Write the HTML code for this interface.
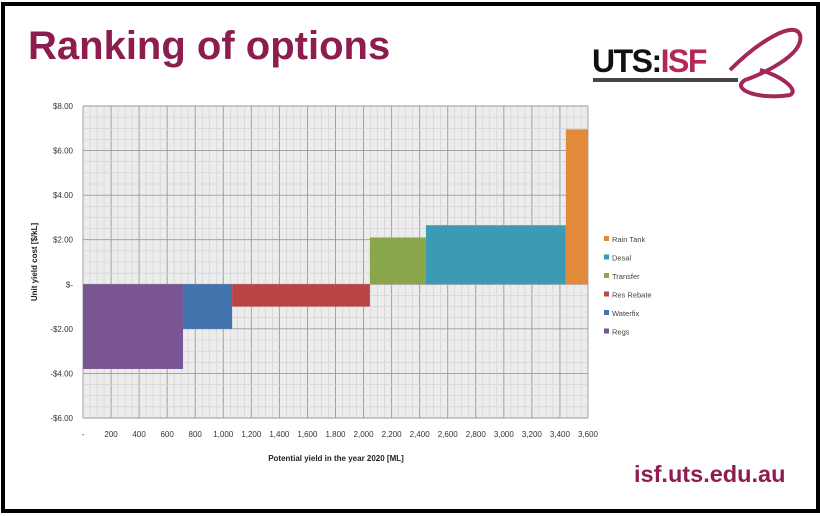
<!DOCTYPE html>
<html><head><meta charset="utf-8"><style>
body{margin:0;width:820px;height:516px;background:#fff;overflow:hidden;font-family:"Liberation Sans",sans-serif}
#frame{position:absolute;left:1px;top:2px;width:811px;height:503px;border:4px solid #000;}
#title{position:absolute;left:28px;top:24px;font-size:40px;font-weight:bold;color:#8c1d4e;}
#logo{position:absolute;left:592px;top:43px;font-size:32px;font-weight:bold;letter-spacing:-1.5px}
#url{position:absolute;left:634px;top:461px;font-size:23.5px;font-weight:bold;color:#8c1d4e}
</style></head><body>
<div id="frame"></div>
<div id="title">Ranking of options</div>
<div id="logo"><span style="color:#111">UTS:</span><span style="color:#b5265a">ISF</span></div>
<div style="position:absolute;left:593px;top:78px;width:145px;height:4px;background:#444"></div>
<svg style="position:absolute;left:700px;top:20px" width="110" height="85"><path d="M30 50 C60 20 95 0 100 15 C105 35 60 55 45 60 C30 70 60 80 90 75 C100 70 80 55 60 50" fill="none" stroke="#a3285a" stroke-width="4"/></svg>
<div id="url">isf.uts.edu.au</div>
<svg id="chart" width="820" height="516" style="position:absolute;left:0;top:0"></svg>
<script>
const names=["Regs","Waterfix","Res Rebate","Transfer","Desal","Rain Tank"];
const yields=[713,350,982,400,997,158];
const costs=[-3.8,-2.0,-1.0,2.1,2.65,6.95];
const colors=["#7a5593","#4373ad","#b84444","#8aa64a","#3c9bb4","#e08a3a"];
const xTicks=[0,200,400,600,800,1000,1200,1400,1600,1800,2000,2200,2400,2600,2800,3000,3200,3400,3600];
const yTicks=[8,6,4,2,0,-2,-4,-6];
const NS="http://www.w3.org/2000/svg",svg=document.getElementById('chart');
const X0=83,X1=588,Y0=106,Y1=418,xmax=3600,ymin=-6,ymax=8;
const sx=v=>X0+v/xmax*(X1-X0), sy=v=>Y0+(ymax-v)/(ymax-ymin)*(Y1-Y0);
function mk(t,a,txt){const e=document.createElementNS(NS,t);for(const k in a)e.setAttribute(k,a[k]);if(txt!=null)e.textContent=txt;svg.appendChild(e);return e;}
let bg=mk('rect',{x:X0,y:Y0,width:X1-X0,height:Y1-Y0,fill:'#ececec'});

for(let v=0;v<=xmax;v+=50){let l=mk('line',{x1:sx(v),x2:sx(v),y1:Y0,y2:Y1,stroke:v%200==0?'#9a9a9a':'#cfcfcf','stroke-width':v%200==0?0.9:0.6});
}
for(let v=ymin;v<=ymax;v+=0.5){let l=mk('line',{x1:X0,x2:X1,y1:sy(v),y2:sy(v),stroke:v%2==0?'#9a9a9a':'#cfcfcf','stroke-width':v%2==0?0.9:0.6});
}
let cum=0;
names.forEach((n,i)=>{const x=sx(cum),w=sx(cum+yields[i])-x;cum+=yields[i];
const y=sy(Math.max(0,costs[i])),h=Math.abs(sy(costs[i])-sy(0));
const r=mk('rect',{x:x,y:y,width:w,height:h,fill:colors[i]});

});
yTicks.forEach(v=>{const s=v==0?'$-':(v<0?'-$':'$')+Math.abs(v).toFixed(2);
const t=mk('text',{x:73,y:sy(v)+3,'text-anchor':'end','font-size':8,fill:'#333'},s);
});
xTicks.forEach(v=>{const s=v==0?'-':v.toLocaleString('en-US');
const t=mk('text',{x:sx(v),y:437,'text-anchor':'middle','font-size':8,fill:'#333'},s);
});
let xt=mk('text',{x:336,y:461,'text-anchor':'middle','font-size':8,'font-weight':'bold',fill:'#222'},'Potential yield in the year 2020 [ML]');

let yt=mk('text',{x:0,y:0,'text-anchor':'middle','font-size':8,'font-weight':'bold',fill:'#222',transform:'translate(37,262) rotate(-90)'},'Unit yield cost [$/kL]');

for(let i=names.length-1,k=0;i>=0;i--,k++){const y=242+k*18.5;
const s=mk('rect',{x:604,y:y-6,width:5,height:5,fill:colors[i]});

const t=mk('text',{x:612,y:y,'font-size':7.5,fill:'#444'},names[i]);
}
</script>
</body></html>
